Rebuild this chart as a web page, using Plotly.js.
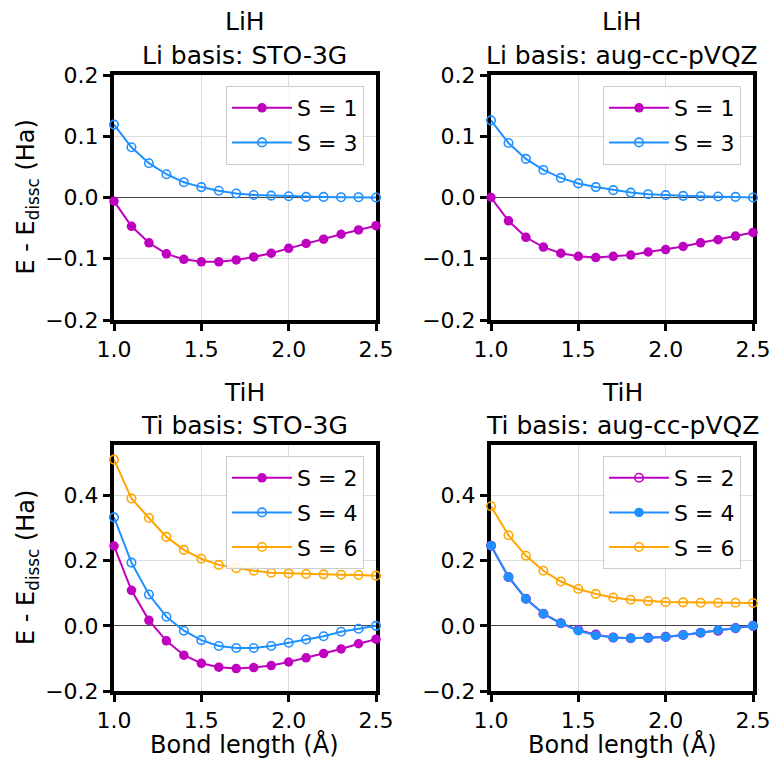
<!DOCTYPE html>
<html>
<head>
<meta charset="utf-8">
<script src="https://cdn.plot.ly/plotly-3.0.1.min.js"></script>
<style>html,body{margin:0;padding:0;background:#fff;}</style>
</head>
<body>
<div id="chart" style="width:771px;height:762px;"></div>
<script>
const bond = [1.0,1.1,1.2,1.3,1.4,1.5,1.6,1.7,1.8,1.9,2.0,2.1,2.2,2.3,2.4,2.5];

const lihStoS1 = [-0.006,-0.047,-0.074,-0.092,-0.101,-0.105,-0.105,-0.102,-0.097,-0.091,-0.083,-0.075,-0.068,-0.060,-0.053,-0.046];
const lihStoS3 = [0.119,0.082,0.056,0.038,0.025,0.017,0.011,0.0065,0.004,0.003,0.002,0.001,0.001,0.0005,0.0005,0.0];
const lihAugS1 = [0.0,-0.038,-0.065,-0.081,-0.091,-0.096,-0.098,-0.096,-0.094,-0.089,-0.085,-0.080,-0.074,-0.069,-0.063,-0.057];
const lihAugS3 = [0.126,0.089,0.063,0.045,0.032,0.023,0.017,0.012,0.008,0.0054,0.0038,0.0027,0.002,0.0016,0.001,0.0];

const tihStoS2 = [0.245,0.109,0.017,-0.046,-0.090,-0.115,-0.127,-0.131,-0.128,-0.122,-0.111,-0.098,-0.085,-0.071,-0.055,-0.041];
const tihStoS4 = [0.333,0.194,0.096,0.028,-0.015,-0.044,-0.062,-0.068,-0.068,-0.062,-0.052,-0.042,-0.032,-0.018,-0.009,0.0];
const tihStoS6 = [0.510,0.391,0.331,0.273,0.233,0.206,0.187,0.177,0.169,0.163,0.161,0.159,0.158,0.157,0.156,0.154];
const tihAugS2 = [0.246,0.150,0.083,0.037,0.008,-0.013,-0.027,-0.036,-0.038,-0.037,-0.034,-0.028,-0.021,-0.015,-0.007,0.0];
const tihAugS4 = [0.246,0.150,0.083,0.037,0.008,-0.015,-0.029,-0.036,-0.038,-0.037,-0.034,-0.028,-0.021,-0.013,-0.007,0.0];
const tihAugS6 = [0.367,0.278,0.215,0.169,0.136,0.113,0.098,0.087,0.080,0.076,0.073,0.072,0.071,0.071,0.071,0.070];

const titleLine1 = ["LiH", "LiH", "TiH", "TiH"];
const titleLine2 = ["Li basis: STO-3G", "Li basis: aug-cc-pVQZ", "Ti basis: STO-3G", "Ti basis: aug-cc-pVQZ"];
const xTicks = [1.0,1.5,2.0,2.5];
const yTicksTop = [-0.2,-0.1,0.0,0.1,0.2];
const yTicksBottom = [-0.2,0.0,0.2,0.4];

const MAG = '#bf00bf', BLU = '#1e90ff', ORA = '#ffa500';
const W = 771, H = 762;
const FONT = 'DejaVu Sans, sans-serif';

let gid = 0;
function tr(y, name, color, filled, xa, ya, leg) {
  gid += 1;
  return {
    x: bond, y: y, name: name, type: 'scatter', mode: 'lines+markers',
    xaxis: xa, yaxis: ya, legend: leg, legendgroup: 'g' + gid, cliponaxis: false,
    line: {color: color, width: 2},
    marker: filled ? {symbol: 'circle', size: 9.5, color: color}
                   : {symbol: 'circle-open', size: 8.5, color: color, line: {width: 1.6, color: color}}
  };
}

const data = [
  tr(lihStoS1, 'S = 1', MAG, true, 'x', 'y', 'legend'),
  tr(lihStoS3, 'S = 3', BLU, false, 'x', 'y', 'legend'),
  tr(lihAugS1, 'S = 1', MAG, true, 'x2', 'y2', 'legend2'),
  tr(lihAugS3, 'S = 3', BLU, false, 'x2', 'y2', 'legend2'),
  tr(tihStoS2, 'S = 2', MAG, true, 'x3', 'y3', 'legend3'),
  tr(tihStoS4, 'S = 4', BLU, false, 'x3', 'y3', 'legend3'),
  tr(tihStoS6, 'S = 6', ORA, false, 'x3', 'y3', 'legend3'),
  tr(tihAugS2, 'S = 2', MAG, false, 'x4', 'y4', 'legend4'),
  tr(tihAugS4, 'S = 4', BLU, true, 'x4', 'y4', 'legend4'),
  tr(tihAugS6, 'S = 6', ORA, false, 'x4', 'y4', 'legend4')
];

// pixel boxes of the four plot areas: [left, right, top, bottom]
const boxes = [[114,376,75,320],[491,753,75,320],[114,376,445,691],[491,753,445,691]];

function xAx(b, anchor) {
  return {
    domain: [b[0]/W, b[1]/W], anchor: anchor, range: [1.0, 2.5],
    tickvals: xTicks, tickformat: '.1f', ticks: 'outside', ticklen: 7, tickwidth: 3, tickcolor: '#000',
    showline: true, linewidth: 4, linecolor: '#000', mirror: true,
    showgrid: true, gridcolor: '#dcdcdc', gridwidth: 1, zeroline: false,
    tickfont: {family: FONT, size: 22, color: '#000'}, layer: 'below traces'
  };
}
function yAx(b, anchor, range, ticks) {
  return {
    domain: [1 - b[3]/H, 1 - b[2]/H], anchor: anchor, range: range,
    tickvals: ticks, tickformat: '.1f', ticks: 'outside', ticklen: 7, tickwidth: 3, tickcolor: '#000',
    showline: true, linewidth: 4, linecolor: '#000', mirror: true,
    showgrid: true, gridcolor: '#dcdcdc', gridwidth: 1,
    zeroline: true, zerolinecolor: '#444', zerolinewidth: 1,
    tickfont: {family: FONT, size: 22, color: '#000'}, layer: 'below traces'
  };
}
function leg(b) {
  return {
    x: (b[1] - 12)/W, y: 1 - (b[2] + 11)/H, xanchor: 'right', yanchor: 'top', xref: 'paper', yref: 'paper',
    bgcolor: 'rgba(255,255,255,0.85)', bordercolor: '#cccccc', borderwidth: 1,
    font: {family: FONT, size: 22, color: '#000'}, itemwidth: 60, tracegroupgap: 3
  };
}

const annotations = [];
boxes.forEach((b, i) => {
  const cx = (b[0] + b[1]) / 2 / W;
  annotations.push({
    text: titleLine1[i], xref: 'paper', yref: 'paper', showarrow: false,
    x: cx, y: 1 - (b[2] - 53)/H, xanchor: 'center', yanchor: 'middle',
    font: {family: FONT, size: 25, color: '#000'}
  });
  annotations.push({
    text: titleLine2[i], xref: 'paper', yref: 'paper', showarrow: false,
    x: cx, y: 1 - (b[2] - 20)/H, xanchor: 'center', yanchor: 'middle',
    font: {family: FONT, size: 25, color: '#000'}
  });
});
[[75,320],[445,691]].forEach(r => {
  annotations.push({
    text: 'E - E<sub>dissc</sub> (Ha)', xref: 'paper', yref: 'paper', showarrow: false, textangle: -90,
    x: 27/W, y: 1 - (r[0] + r[1]) / 2 / H, xanchor: 'center', yanchor: 'middle',
    font: {family: FONT, size: 24, color: '#000'}
  });
});
[[114,376],[491,753]].forEach(r => {
  annotations.push({
    text: 'Bond length (Å)', xref: 'paper', yref: 'paper', showarrow: false,
    x: (r[0] + r[1]) / 2 / W, y: 1 - 744/H, xanchor: 'center', yanchor: 'middle',
    font: {family: FONT, size: 24, color: '#000'}
  });
});

const layout = {
  width: W, height: H, margin: {l: 0, r: 0, t: 0, b: 0},
  paper_bgcolor: '#fff', plot_bgcolor: '#fff', showlegend: true,
  font: {family: FONT, color: '#000'},
  xaxis: xAx(boxes[0], 'y'), yaxis: yAx(boxes[0], 'x', [-0.2, 0.2], yTicksTop),
  xaxis2: xAx(boxes[1], 'y2'), yaxis2: yAx(boxes[1], 'x2', [-0.2, 0.2], yTicksTop),
  xaxis3: xAx(boxes[2], 'y3'), yaxis3: yAx(boxes[2], 'x3', [-0.2, 0.555], yTicksBottom),
  xaxis4: xAx(boxes[3], 'y4'), yaxis4: yAx(boxes[3], 'x4', [-0.2, 0.555], yTicksBottom),
  legend: leg(boxes[0]), legend2: leg(boxes[1]), legend3: leg(boxes[2]), legend4: leg(boxes[3]),
  annotations: annotations
};

Plotly.newPlot('chart', data, layout, {staticPlot: true, displayModeBar: false});
</script>
</body>
</html>
